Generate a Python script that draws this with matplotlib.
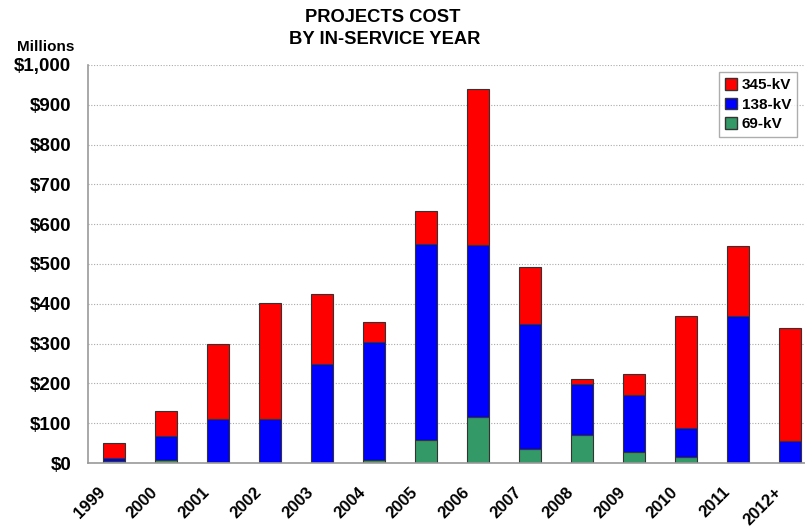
import matplotlib
matplotlib.use("Agg")
import matplotlib.pyplot as plt
from matplotlib.patches import Patch
from matplotlib.transforms import ScaledTranslation
import numpy as np

years = ["1999", "2000", "2001", "2002", "2003", "2004", "2005", "2006",
         "2007", "2008", "2009", "2010", "2011", "2012+"]
kv69 = [6, 7, 3, 0, 0, 7, 57, 115, 34, 70, 27, 16, 0, 0]
kv138 = [7, 60, 108, 110, 250, 296, 492, 433, 316, 128, 143, 73, 369, 55]
kv345 = [36, 63, 189, 292, 175, 51, 85, 392, 143, 13, 54, 280, 177, 285]
yticks = [0, 100, 200, 300, 400, 500, 600, 700, 800, 900, 1000]
ytick_labels = ["$0", "$100", "$200", "$300", "$400", "$500", "$600", "$700",
                "$800", "$900", "$1,000"]

plt.rcParams['font.family'] = ['Liberation Sans', 'DejaVu Sans']

W, H = 805, 528
fig = plt.figure(figsize=(W / 100, H / 100), dpi=100)
ax = fig.add_axes([88 / W, (H - 463) / H, (816 - 88) / W, (463 - 65) / H])

x = np.arange(len(years))
a69 = np.array(kv69)
a138 = np.array(kv138)
a345 = np.array(kv345)
bw = 0.42
c_red, c_blue, c_green = "#FF0000", "#0000FF", "#339966"
ekw = dict(edgecolor="#333333", linewidth=0.8)
ax.bar(x, a69, bw, color=c_green, **ekw)
ax.bar(x, a138, bw, bottom=a69, color=c_blue, **ekw)
ax.bar(x, a345, bw, bottom=a69 + a138, color=c_red, **ekw)

ax.set_xlim(-0.5, len(years) - 0.5)
ax.set_ylim(0, 1000)
ax.set_yticks(yticks)
ax.set_yticklabels(ytick_labels, fontsize=13.5, fontweight="bold")
ax.set_xticks(x)
ax.set_xticklabels(years, fontsize=12, fontweight="bold", rotation=45,
                   ha="right", va="top", rotation_mode="anchor")
ax.tick_params(axis="both", length=0)
ax.tick_params(axis="y", pad=12)
ax.tick_params(axis="x", pad=15.5)
off = ScaledTranslation(-16 / 100, 0, fig.dpi_scale_trans)
for lbl in ax.get_xticklabels():
    lbl.set_transform(lbl.get_transform() + off)
ax.yaxis.grid(True, linestyle=(0, (1, 1.5)), color="#aaaaaa", linewidth=0.8)
ax.set_axisbelow(True)
for s in ["top", "right"]:
    ax.spines[s].set_visible(False)
ax.spines["left"].set_color("#999999")
ax.spines["bottom"].set_color("#999999")
ax.spines["left"].set_linewidth(1.2)
ax.spines["bottom"].set_linewidth(1.2)

handles = [Patch(facecolor=c_red, edgecolor="#333333", label="345-kV"),
           Patch(facecolor=c_blue, edgecolor="#333333", label="138-kV"),
           Patch(facecolor=c_green, edgecolor="#333333", label="69-kV")]
leg = fig.legend(handles=handles, loc="upper right",
                 bbox_to_anchor=(797 / W, 1 - 72 / H),
                 prop={"weight": "bold", "size": 11}, frameon=True,
                 fancybox=False, handlelength=0.8, handleheight=0.8,
                 handletextpad=0.3, borderpad=0.4, labelspacing=0.35,
                 borderaxespad=0)
leg.get_frame().set_edgecolor("#999999")
leg.get_frame().set_linewidth(1.0)

fig.text(383 / W, 1 - 17 / H, "PROJECTS COST", ha="center", va="center",
         fontsize=13.2, fontweight="bold")
fig.text(385 / W, 1 - 39 / H, "BY IN-SERVICE YEAR", ha="center", va="center",
         fontsize=13.2, fontweight="bold")
fig.text(46 / W, 1 - 47 / H, "Millions", ha="center", va="center",
         fontsize=11, fontweight="bold")

fig.savefig("out.png", dpi=100)
